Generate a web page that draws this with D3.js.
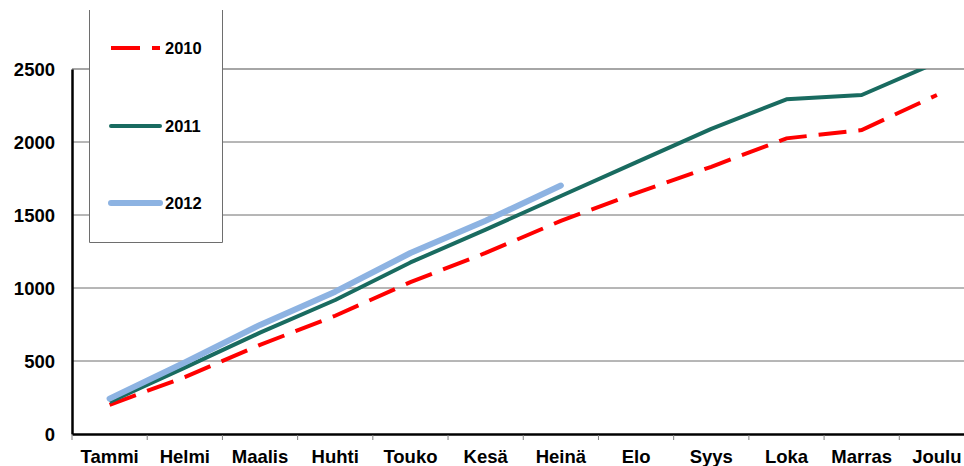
<!DOCTYPE html>
<html><head><meta charset="utf-8">
<script src="https://cdn.jsdelivr.net/npm/d3@7"></script>
<style>
html,body{margin:0;padding:0;background:#fff;}
svg{display:block;font-family:"Liberation Sans",Arial,sans-serif;font-weight:bold;}
</style></head>
<body><svg id="c" width="964" height="466"></svg>
<script>
const months = ["Tammi","Helmi","Maalis","Huhti","Touko","Kesä","Heinä","Elo","Syys","Loka","Marras","Joulu"];
const yTicks = [0,500,1000,1500,2000,2500];
const s2010 = [200,390,610,810,1040,1240,1460,1650,1830,2025,2082,2322];
const s2011 = [220,455,694,918,1175,1400,1630,1860,2090,2292,2322,2545];
const s2012 = [242,490,747,975,1240,1460,1702];
const seriesNames = ["2010","2011","2012"];

const svg = d3.select("#c");
const x = d3.scaleBand().domain(months).range([72, 974.5]);
const y = d3.scaleLinear().domain([0,2500]).range([434,69]);
const FF = "'Liberation Sans',Arial,sans-serif";

// gridlines
svg.append("g").selectAll("line").data(yTicks.filter(d=>d>0)).join("line")
  .attr("x1",72).attr("x2",964).attr("y1",d=>y(d)).attr("y2",d=>y(d))
  .attr("stroke",d=>d===2500?"#a6a6a6":"#6e6e6e").attr("stroke-width",d=>d===2500?2:1);

// y axis
const ya = svg.append("g").attr("transform","translate(72,0)")
  .call(d3.axisLeft(y).tickValues(yTicks).tickFormat(d3.format("d")).tickSize(0).tickPadding(17));
ya.select(".domain").attr("stroke","#000").attr("stroke-width",2.5);
ya.selectAll("text").attr("font-size",18.5).attr("font-weight","bold")
  .attr("font-family",FF).attr("fill","#000").attr("dy","0.36em");

// x axis
const xa = svg.append("g").attr("transform","translate(0,434)")
  .call(d3.axisBottom(x).tickSize(0).tickPadding(16));
xa.select(".domain").attr("stroke","#000").attr("stroke-width",2.5);
xa.selectAll("text").attr("font-size",18.5).attr("font-weight","bold")
  .attr("font-family",FF).attr("fill","#000");
// boundary ticks
const bounds = months.map(m=>x(m));
svg.append("g").selectAll("line").data(bounds).join("line")
  .attr("x1",d=>d).attr("x2",d=>d).attr("y1",435).attr("y2",440)
  .attr("stroke","#808080").attr("stroke-width",1);

// clip
svg.append("clipPath").attr("id","pc").append("rect")
  .attr("x",72).attr("y",y(2500)).attr("width",902).attr("height",y(0)-y(2500));

const line = d3.line().x((d,i)=>x(months[i])+x.bandwidth()/2).y(d=>y(d));
const g = svg.append("g").attr("clip-path","url(#pc)");
g.append("path").datum(s2010).attr("d",line).attr("fill","none")
  .attr("stroke","#ff0000").attr("stroke-width",4).attr("stroke-dasharray","28,12");
g.append("path").datum(s2011).attr("d",line).attr("fill","none")
  .attr("stroke","#196b60").attr("stroke-width",4).attr("stroke-linejoin","round");
g.append("path").datum(s2012).attr("d",line).attr("fill","none")
  .attr("stroke","#8db3e2").attr("stroke-width",6).attr("stroke-linecap","round").attr("stroke-linejoin","round");

// legend
const lg = svg.append("g");
lg.append("rect").attr("x",89.5).attr("y",10).attr("width",133).attr("height",232.5)
  .attr("fill","#fff").attr("stroke","none");
lg.append("path").attr("d","M89.5,10V242.5H222.5V10").attr("fill","none")
  .attr("stroke","#6e6e6e").attr("stroke-width",1);
const ly = [48,126,203];
const lstyle = [
  {c:"#ff0000",w:4,dash:"29,12",cap:"butt"},
  {c:"#196b60",w:4,dash:null,cap:"round"},
  {c:"#8db3e2",w:6,dash:null,cap:"round"}
];
seriesNames.forEach((n,i)=>{
  const l = lg.append("line").attr("x1",111).attr("x2",160).attr("y1",ly[i]).attr("y2",ly[i])
    .attr("stroke",lstyle[i].c).attr("stroke-width",lstyle[i].w).attr("stroke-linecap",lstyle[i].cap);
  if(lstyle[i].dash) l.attr("stroke-dasharray",lstyle[i].dash);
  lg.append("text").attr("x",165).attr("y",ly[i]).attr("dy","0.36em")
    .attr("font-size",16.5).attr("font-weight","bold").attr("font-family",FF).attr("fill","#000").text(n);
});
</script></body></html>
